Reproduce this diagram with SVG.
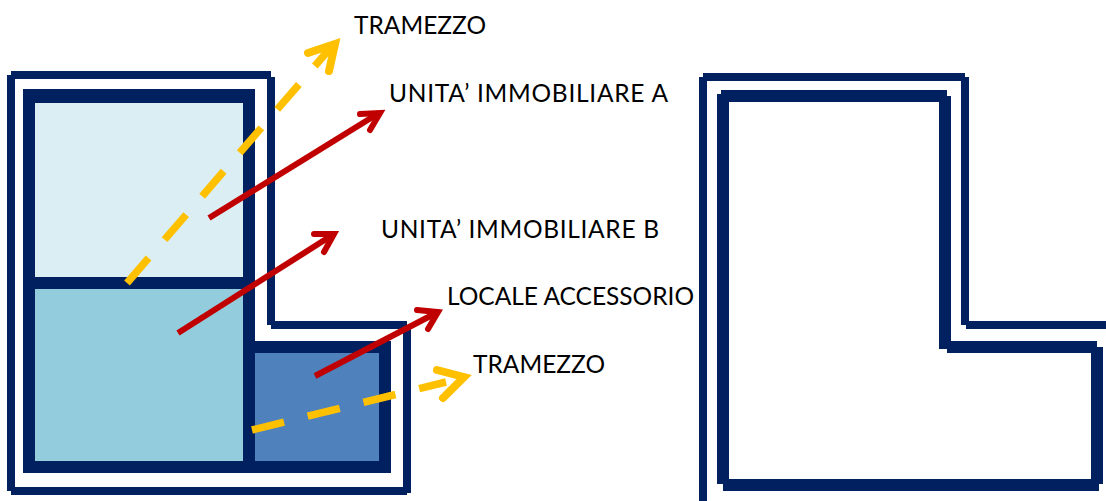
<svg xmlns="http://www.w3.org/2000/svg" width="1106" height="501" viewBox="0 0 1106 501">
<style>
.wall{fill:#002060}
.red{fill:none;stroke:#c00000;stroke-width:6}
.yel{fill:none;stroke:#ffc000;stroke-width:7.500}
.head{stroke-linecap:round;stroke-linejoin:miter;stroke-miterlimit:10}
.yh{stroke-width:8}
.dash{stroke-dasharray:33 24.4}
text{font-family:"Lato","Liberation Sans",sans-serif;font-size:24.5px;fill:#000}
</style>
<rect width="1106" height="501" fill="#fff"/>
<g id="left-plan">
<g id="outer-wall-left" class="wall">
<rect x="7" y="75" width="8" height="416"/>
<rect x="11" y="71" width="260" height="8"/>
<rect x="267" y="77" width="8" height="248"/>
<rect x="271" y="321" width="136" height="8"/>
<rect x="403" y="325" width="8" height="168"/>
<rect x="11" y="487" width="396" height="8"/>
</g>
<g id="inner-wall-left"><path class="wall" d="M23 89H255V341H391V473H23Z"/></g>
<g id="unit-a"><rect x="35" y="103" width="208" height="174" fill="#daeef3"/></g>
<g id="unit-b"><rect x="35" y="289" width="208" height="172" fill="#93cddd"/></g>
<g id="accessory"><rect x="255" y="353" width="124" height="108" fill="#4f81bd"/></g>
</g>
<g id="right-plan">
<g id="outer-wall-right" class="wall">
<rect x="699" y="77" width="8" height="424"/>
<rect x="703" y="73" width="262" height="8"/>
<rect x="961" y="77" width="8" height="248"/>
<rect x="966" y="321" width="140" height="8"/>
</g>
<g id="inner-wall-right" class="wall">
<rect x="717" y="94" width="12" height="390"/>
<rect x="721" y="90" width="226" height="12"/>
<rect x="939" y="96" width="12" height="253"/>
<rect x="947" y="341" width="150" height="12"/>
<rect x="1091" y="347" width="12" height="137"/>
<rect x="723" y="479" width="376" height="12"/>
</g>
</g>
<g id="connectors">
<path class="yel dash" d="M127 283L333 45"/>
<path class="yel head yh" d="M308 53L335 44L329 71"/>
<path class="red" d="M209 218L379 113"/>
<path class="red head" d="M360 114L380 113L370 130"/>
<path class="red" d="M178 333L334 234"/>
<path class="red head" d="M314 234L334 234L324 252"/>
<path class="red" d="M315 376L438 312"/>
<path class="red head" d="M417 310L438 312L428 329"/>
<path class="yel dash" d="M252 430L446 382"/>
<path class="yel head yh" d="M437 370L464 377L443 398"/>
</g>
<g id="labels">
<text x="354" y="34" textLength="132">TRAMEZZO</text>
<text x="389" y="101.500" textLength="279">UNITA’ IMMOBILIARE A</text>
<text x="381" y="237.500" textLength="278">UNITA’ IMMOBILIARE B</text>
<text x="447" y="305" textLength="247">LOCALE ACCESSORIO</text>
<text x="473" y="373" textLength="132">TRAMEZZO</text>
</g>
</svg>
